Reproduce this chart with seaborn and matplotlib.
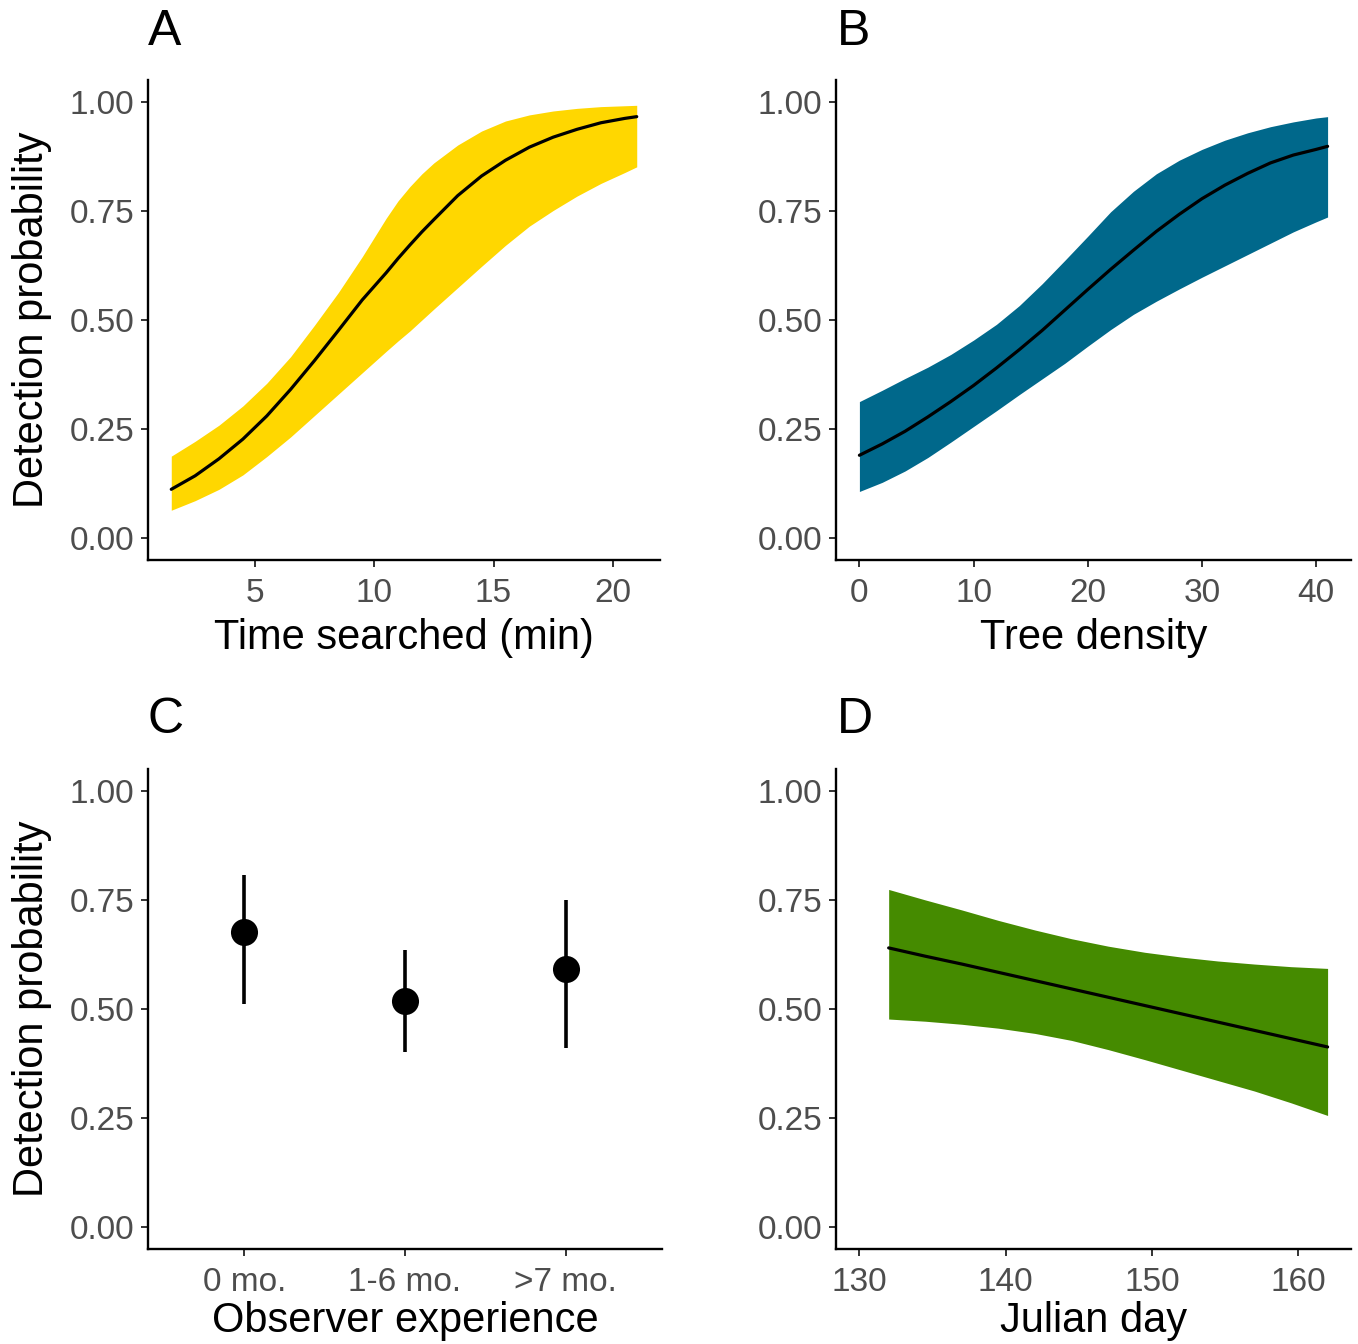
import numpy as np
import pandas as pd
import matplotlib
matplotlib.use("Agg")
import matplotlib.pyplot as plt
import seaborn as sns

# ---------------- data ----------------
# Panel A: time searched
time_x   = [1.5, 2.5, 3.5, 4.5, 5.5, 6.5, 7.5, 8.5, 9.5, 10.5, 11, 11.5, 12, 12.5, 13.5, 14.5,
            15.5, 16.5, 17.5, 18.5, 19.5, 20.5, 21]
time_fit = [0.112, 0.143, 0.182, 0.227, 0.280, 0.341, 0.407, 0.476, 0.546, 0.608, 0.641, 0.672, 0.702,
            0.730, 0.785, 0.830, 0.866, 0.896, 0.919, 0.937, 0.952, 0.962, 0.966]
time_lo  = [0.064, 0.086, 0.112, 0.145, 0.187, 0.232, 0.281, 0.330, 0.379, 0.428, 0.452, 0.475, 0.500,
            0.525, 0.574, 0.623, 0.671, 0.715, 0.751, 0.784, 0.813, 0.838, 0.851]
time_hi  = [0.188, 0.222, 0.259, 0.303, 0.355, 0.416, 0.488, 0.563, 0.645, 0.733, 0.773, 0.806, 0.835,
            0.860, 0.901, 0.933, 0.956, 0.970, 0.979, 0.985, 0.989, 0.991, 0.992]

# Panel B: tree density
tree_x   = [0, 2, 4, 6, 8, 10, 12, 14, 16, 18, 20, 22, 24, 26, 28, 30, 32, 34, 36, 38, 40, 41]
tree_fit = [0.190, 0.216, 0.245, 0.278, 0.313, 0.350, 0.390, 0.432, 0.476, 0.523, 0.570, 0.616,
            0.660, 0.703, 0.742, 0.778, 0.809, 0.836, 0.860, 0.878, 0.891, 0.898]
tree_lo  = [0.107, 0.128, 0.154, 0.185, 0.220, 0.256, 0.292, 0.329, 0.365, 0.401, 0.440, 0.478,
            0.513, 0.543, 0.571, 0.598, 0.624, 0.650, 0.676, 0.702, 0.725, 0.736]
tree_hi  = [0.313, 0.339, 0.366, 0.392, 0.421, 0.454, 0.490, 0.533, 0.583, 0.637, 0.692, 0.748,
            0.795, 0.835, 0.866, 0.891, 0.912, 0.929, 0.943, 0.954, 0.963, 0.966]

# Panel C: observer experience
exp_cats = ["0 mo.", "1-6 mo.", ">7 mo."]
exp_fit  = [0.676, 0.518, 0.591]
exp_lo   = [0.511, 0.402, 0.411]
exp_hi   = [0.806, 0.635, 0.749]

# Panel D: julian day
day_x   = [132, 134.5, 137, 139.5, 142, 144.5, 147, 149.5, 152, 154.5, 157, 159.5, 162]
day_fit = [0.640, 0.621, 0.603, 0.584, 0.565, 0.546, 0.527, 0.508, 0.489, 0.470, 0.451, 0.432, 0.413]
day_lo  = [0.477, 0.472, 0.465, 0.456, 0.444, 0.428, 0.407, 0.384, 0.360, 0.336, 0.312, 0.285, 0.256]
day_hi  = [0.774, 0.750, 0.727, 0.703, 0.681, 0.661, 0.644, 0.630, 0.619, 0.610, 0.603, 0.597, 0.593]

y_ticks = [0.0, 0.25, 0.5, 0.75, 1.0]
y_ticklabels = ["0.00", "0.25", "0.50", "0.75", "1.00"]

# ---------------- style ----------------
sns.set_theme(style="ticks")
plt.rcParams["font.family"] = ["Liberation Sans", "DejaVu Sans"]

W, H = 1358, 1344
fig = plt.figure(figsize=(W / 100, H / 100), dpi=100)


def add_ax(left, top, right, bottom):
    return fig.add_axes([left / W, 1 - bottom / H, (right - left) / W, (bottom - top) / H])


def style(ax, ylabel=True):
    sns.despine(ax=ax)
    for s in ("left", "bottom"):
        ax.spines[s].set_linewidth(1.7)
        ax.spines[s].set_color("black")
    ax.tick_params(axis="both", length=5, width=1.4, color="#333333",
                   labelsize=24, labelcolor="#4D4D4D", pad=5)
    ax.tick_params(axis="x", pad=8)
    ax.set_ylim(-0.05, 1.05)
    ax.set_yticks(y_ticks)
    ax.set_yticklabels(y_ticklabels)
    ax.grid(False)
    if ylabel:
        ax.set_ylabel("Detection probability", fontsize=30, color="black")
        ax.yaxis.set_label_coords((32 - 148) / 512, 0.5)
        ax.yaxis.label.set_va("center")
        ax.yaxis.label.set_ha("center")
    else:
        ax.set_ylabel("")


def set_xlab(ax, text, ypos=-0.163):
    ax.set_xlabel(text, fontsize=30, color="black")
    ax.xaxis.set_label_coords(0.5, ypos)
    ax.xaxis.label.set_va("center")


def ribbon(ax, x, lo, hi, fit, color):
    ax.fill_between(x, lo, hi, color=color, linewidth=0, zorder=1)
    sns.lineplot(x=x, y=fit, ax=ax, color="black", linewidth=2.3, zorder=2)


# Panel A
axA = add_ax(148, 80, 660, 560)
ribbon(axA, time_x, time_lo, time_hi, time_fit, "#FFD700")
axA.set_xlim(0.525, 21.975)
axA.set_xticks([5, 10, 15, 20])
style(axA)
set_xlab(axA, "Time searched (min)")

# Panel B
axB = add_ax(836, 80, 1351, 560)
ribbon(axB, tree_x, tree_lo, tree_hi, tree_fit, "#00688B")
axB.set_xlim(-2.05, 43.05)
axB.set_xticks([0, 10, 20, 30, 40])
style(axB, ylabel=False)
set_xlab(axB, "Tree density")

# Panel C
axC = add_ax(148, 769, 662, 1249)
dfC = pd.DataFrame({"exp": exp_cats, "p": exp_fit})
axC.vlines(exp_cats, exp_lo, exp_hi, color="black", linewidth=2.6, zorder=2)
sns.scatterplot(data=dfC, x="exp", y="p", ax=axC, color="black", s=380,
                edgecolor="black", linewidth=0, zorder=3)
axC.set_xlim(-0.6, 2.6)
style(axC)
set_xlab(axC, "Observer experience", ypos=-0.149)

# Panel D
axD = add_ax(836, 769, 1351, 1249)
ribbon(axD, day_x, day_lo, day_hi, day_fit, "#458B00")
axD.set_xlim(128.4, 163.6)
axD.set_xticks([130, 140, 150, 160])
style(axD, ylabel=False)
set_xlab(axD, "Julian day", ypos=-0.149)

# panel letters
for lab, x, y in [("A", 148, 32), ("B", 837, 32), ("C", 148, 720), ("D", 837, 720)]:
    fig.text(x / W, 1 - y / H, lab, fontsize=36, ha="left", va="center", color="black")

fig.savefig("out.png", dpi=100, facecolor="white")
